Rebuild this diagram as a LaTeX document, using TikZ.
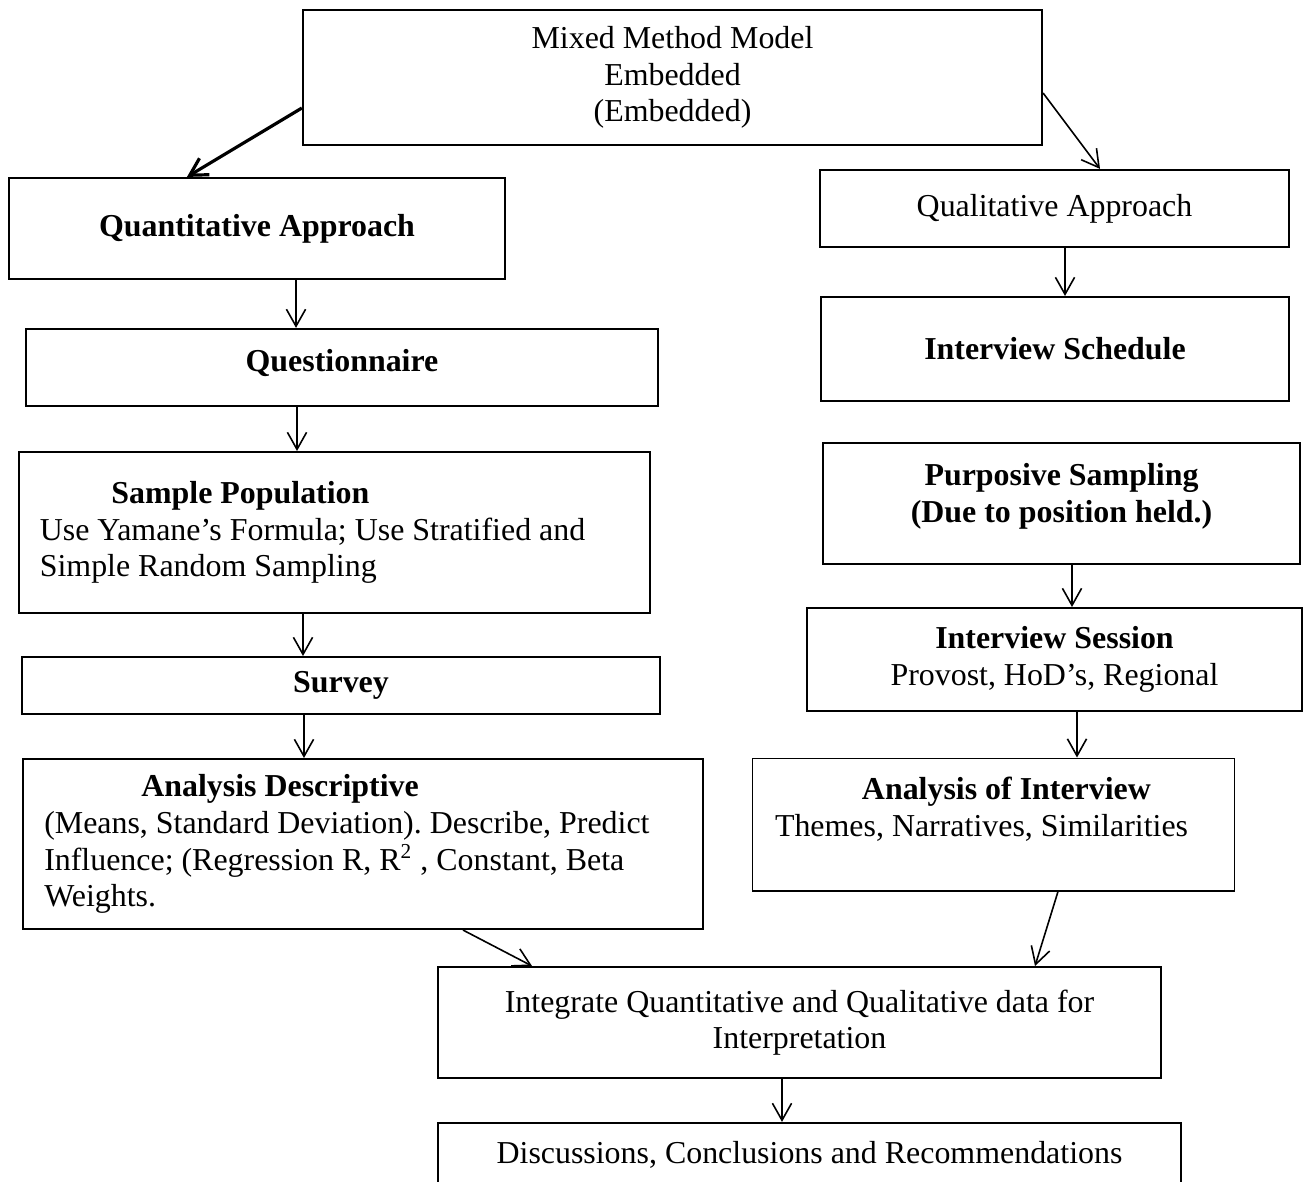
\documentclass[tikz,border=0pt]{standalone}
\usepackage{fontspec}
\setmainfont{Liberation Serif}
\usetikzlibrary{arrows.meta}
\newcommand{\padbelow}[1]{\rule[-#1]{0pt}{0pt}}

\begin{document}
\begin{tikzpicture}[x=0.376pt, y=-0.376pt,
    box/.style ={draw, line width=0.8pt, align=center, font=\fontsize{12pt}{13.8pt}\selectfont\frenchspacing},
    leftbox/.style ={box, align=flush left, inner xsep=8pt},
    flow/.style ={line width=0.6pt, -{Straight Barb[length=6.4pt,width=7.2pt]}}]
   \useasboundingbox (0,0) rectangle (1308,1181);
   \node[box, minimum width=277.9pt, minimum height=50.8pt] (top) at (672.5,77.5) {Mixed Method Model\\Embedded\\(Embedded)};
   \node[box, minimum width=186.5pt, minimum height=38pt] (quant) at (257,228.5) {\textbf{Quantitative Approach}};
   \node[box, minimum width=237.6pt, minimum height=29pt] (quest) at (342,367.5) {\textbf{Questionnaire}\padbelow{5.6pt}};
   \node[leftbox, text width=221.4pt, minimum height=60.5pt] (sample) at (334.25,532.5) {\hspace*{26.9pt}\textbf{Sample Population}\\Use Yamane's Formula; Use Stratified and\\Simple Random Sampling};
   \node[box, minimum width=239.9pt, minimum height=21.4pt] (survey) at (341,685.5) {\textbf{Survey}};
   \node[leftbox, text width=239.7pt, minimum height=63.9pt] (adesc) at (363,844) {\hspace*{36.5pt}\textbf{Analysis Descriptive}\\(Means, Standard Deviation). Describe, Predict\\Influence; (Regression R, R\textsuperscript{2} , Constant, Beta\\Weights.};
   \node[box, minimum width=176.3pt, minimum height=29pt] (qual) at (1054.5,208.5) {Qualitative Approach};
   \node[box, minimum width=176pt, minimum height=39.1pt] (isched) at (1055,349) {\textbf{Interview Schedule}};
   \node[box, minimum width=179.4pt, minimum height=45.5pt] (purp) at (1061.5,503.5) {\textbf{Purposive Sampling}\\\textbf{(Due to position held.)}\padbelow{7.9pt}};
   \node[box, minimum width=186.1pt, minimum height=38.7pt] (isess) at (1054.5,659.5) {\textbf{Interview Session}\\Provost, HoD's, Regional};
   \node[leftbox, line width=0.4pt, inner xsep=8.3pt, text width=164.3pt, minimum height=50pt] (ainter) at (993.5,824.5) {\hspace*{32.7pt}\textbf{Analysis of Interview}\\Themes, Narratives, Similarities\padbelow{13.5pt}};
   \node[box, minimum width=271.8pt, minimum height=41.7pt] (integ) at (799.5,1022.5) {Integrate Quantitative and Qualitative data for\\Interpretation};
   \node[box, minimum width=279.4pt, minimum height=24.1pt] (disc) at (809.5,1155) {Discussions, Conclusions and Recommendations};
   \draw[flow, line width=1.2pt] (top.west |- 0,108) -- (quant.north -| 187,0);
   \draw[flow] (top.east |- 0,93) -- (qual.north -| 1100,0);
   \draw[flow] (quant.south -| 296,0) -- (quest.north -| 296,0);
   \draw[flow] (quest.south -| 297,0) -- (sample.north -| 297,0);
   \draw[flow] (sample.south -| 303,0) -- (survey.north -| 303,0);
   \draw[flow] (survey.south -| 304,0) -- (adesc.north -| 304,0);
   \draw[flow] (adesc.south -| 463,0) -- (integ.north -| 532,0);
   \draw[flow] (qual.south -| 1065,0) -- (isched.north -| 1065,0);
   \draw[flow] (purp.south -| 1072,0) -- (isess.north -| 1072,0);
   \draw[flow] (isess.south -| 1077,0) -- (ainter.north -| 1077,0);
   \draw[flow] (ainter.south -| 1058,0) -- (integ.north -| 1035,0);
   \draw[flow] (integ.south -| 782,0) -- (disc.north -| 782,0);
\end{tikzpicture}
\end{document}
